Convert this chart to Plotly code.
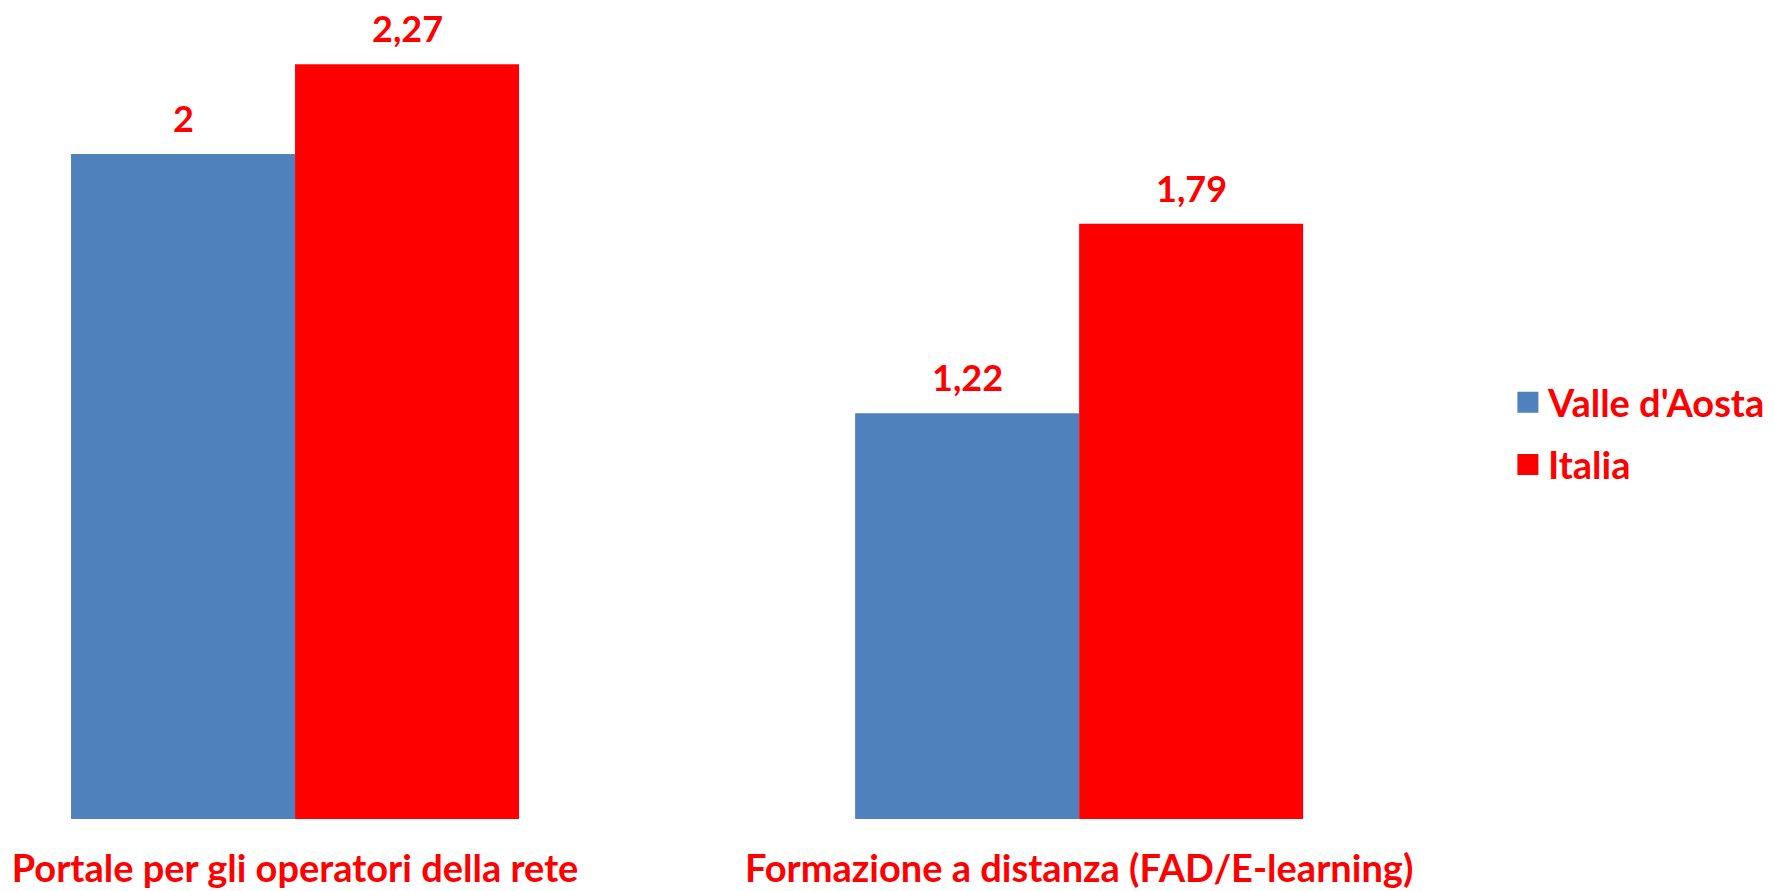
import plotly.graph_objects as go

categories = ["Portale per gli operatori della rete", "Formazione a distanza (FAD/E-learning)"]
series_names = ["Valle d'Aosta", "Italia"]
valle_values = [2, 1.22]
italia_values = [2.27, 1.79]

colors = ["#4F81BD", "#FF0000"]
font_family = "Lato, 'Open Sans', sans-serif"
red = "#FF0000"
bargap = 0.4286

def fmt(v):
    return f"{v:g}".replace(".", ",")

fig = go.Figure()
series = [valle_values, italia_values]
for i, (name, vals) in enumerate(zip(series_names, series)):
    fig.add_trace(go.Bar(
        x=categories, y=vals, name=name,
        marker=dict(color=colors[i], line=dict(width=0)),
        showlegend=False, hoverinfo="x+y+name",
    ))
    fig.add_trace(go.Scatter(
        x=[None], y=[None], mode="markers", name=name,
        marker=dict(symbol="square", size=16, color=colors[i],
                    line=dict(width=5, color=colors[i])),
        legendgroup=name, showlegend=True,
    ))

# value labels above bars
half = (1 - bargap) / 4
for i, vals in enumerate(series):
    off = -half if i == 0 else half
    for j, v in enumerate(vals):
        fig.add_annotation(
            x=j + off, y=v, xref="x", yref="y", text=fmt(v), showarrow=False,
            yanchor="middle", yshift=36,
            font=dict(size=36, color=red, family=font_family, weight="bold"),
        )

W, H = 1774, 891
fig.update_layout(
    width=W, height=H,
    margin=dict(l=0, r=0, t=0, b=72),
    paper_bgcolor="white", plot_bgcolor="white",
    barmode="group", bargap=bargap, bargroupgap=0,
    separators=",.",
    font=dict(family=font_family, color=red, size=38),
    xaxis=dict(domain=[0, 0.80], range=[-0.3763, 1.4337], showgrid=False, showline=False,
               zeroline=False, ticks="outside", ticklen=16, tickcolor="rgba(0,0,0,0)",
               tickfont=dict(size=38, color=red, family=font_family, weight="bold"), automargin=False),
    yaxis=dict(range=[0, 819/332.5], visible=False, showgrid=False, zeroline=False),
    legend=dict(x=0.850, y=0.4707, xanchor="left", yanchor="middle",
                font=dict(size=38, color=red, family=font_family, weight="bold"),
                itemsizing="trace", tracegroupgap=10, traceorder="grouped"),
)

fig.write_html("out.html", config={"displayModeBar": False},
               post_script="document.body.style.margin='0';document.body.style.overflow='hidden';")
